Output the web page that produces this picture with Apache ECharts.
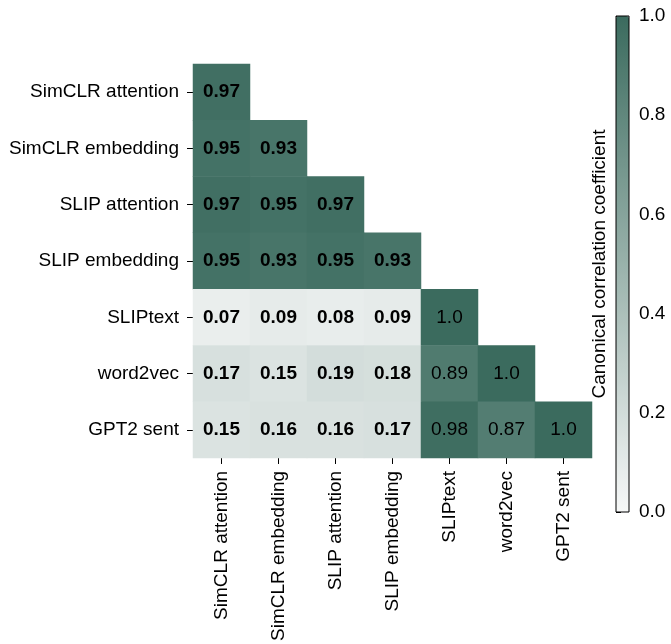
<!DOCTYPE html>
<html>
<head>
<meta charset="utf-8">
<script src="https://cdn.jsdelivr.net/npm/echarts@6/dist/echarts.min.js"></script>
<style>
  html, body { margin: 0; padding: 0; background: #fff; }
  #chart { width: 671px; height: 644px; }
</style>
</head>
<body>
<div id="chart"></div>
<script>
  // categories (same order on both axes)
  const labels = ['SimCLR attention', 'SimCLR embedding', 'SLIP attention', 'SLIP embedding', 'SLIPtext', 'word2vec', 'GPT2 sent']
  // lower triangle, one row per y label
  const row0 = [0.97]
  const row1 = [0.95, 0.93]
  const row2 = [0.97, 0.95, 0.97]
  const row3 = [0.95, 0.93, 0.95, 0.93]
  const row4 = [0.07, 0.09, 0.08, 0.09, 1.0]
  const row5 = [0.17, 0.15, 0.19, 0.18, 0.89, 1.0]
  const row6 = [0.15, 0.16, 0.16, 0.17, 0.98, 0.87, 1.0]

  const rows = [row0, row1, row2, row3, row4, row5, row6]
  const font = '"Liberation Sans", Arial, sans-serif'
  const fs = 19

  let data = []
  rows.forEach((r, y) => {
    r.forEach((v, x) => {
      data.push({
        value: [x, y, v],
        label: { fontWeight: x < 4 ? 'bold' : 'normal' }
      })
    })
  })

  const chart = echarts.init(document.getElementById('chart'))
  const options = {
    backgroundColor: '#fff',
    textStyle: { fontFamily: font },
    grid: [
      { left: 193, top: 64, width: 399, height: 399 },
      // colorbar frame
      { left: 616, top: 16, width: 13, height: 496, show: true, borderColor: '#000', borderWidth: 1, backgroundColor: 'transparent', z: 10 }
    ],
    xAxis: [
      {
        type: 'category',
        data: labels,
        gridIndex: 0,
        axisLine: { show: false },
        axisTick: { show: true, alignWithLabel: true, length: 6, lineStyle: { color: '#000' } },
        axisLabel: { rotate: 90, interval: 0, margin: 13, color: '#000', fontSize: fs, fontFamily: font },
        splitLine: { show: false }
      },
      { type: 'value', gridIndex: 1, show: false, min: 0, max: 1 }
    ],
    yAxis: [
      {
        type: 'category',
        data: labels,
        inverse: true,
        gridIndex: 0,
        axisLine: { show: false },
        axisTick: { show: true, alignWithLabel: true, length: 6, lineStyle: { color: '#000' } },
        axisLabel: { interval: 0, margin: 14, color: '#000', fontSize: fs, fontFamily: font },
        splitLine: { show: false }
      },
      {
        type: 'value',
        gridIndex: 1,
        position: 'right',
        min: 0,
        max: 1,
        interval: 0.2,
        axisLine: { show: false },
        axisTick: { show: true, length: 5, lineStyle: { color: '#000' } },
        axisLabel: { margin: 10, color: '#000', fontSize: fs, fontFamily: font, formatter: v => v.toFixed(1) },
        splitLine: { show: false }
      }
    ],
    visualMap: {
      type: 'continuous',
      min: 0,
      max: 1,
      calculable: false,
      seriesIndex: 0,
      left: 616,
      top: 16,
      padding: 0,
      itemWidth: 13,
      itemHeight: 496,
      text: null,
      showLabel: false,
      inRange: { color: ['#f7f8f8', '#3b6b5e'] }
    },
    graphic: [
      {
        type: 'text',
        x: 600,
        y: 264,
        rotation: Math.PI / 2,
        style: {
          x: 0, y: 0,
          text: 'Canonical correlation coefficient',
          fill: '#000',
          font: fs + 'px ' + font,
          align: 'center',
          verticalAlign: 'middle'
        }
      }
    ],
    series: [
      {
        type: 'heatmap',
        xAxisIndex: 0,
        yAxisIndex: 0,
        data: data,
        label: {
          show: true,
          color: '#000',
          fontSize: fs,
          fontFamily: font,
          formatter: p => p.value[2] === 1 ? '1.0' : p.value[2].toFixed(2)
        },
        itemStyle: { borderWidth: 0 },
        emphasis: { disabled: true }
      }
    ]
  }
  chart.setOption(options)
</script>
</body>
</html>
